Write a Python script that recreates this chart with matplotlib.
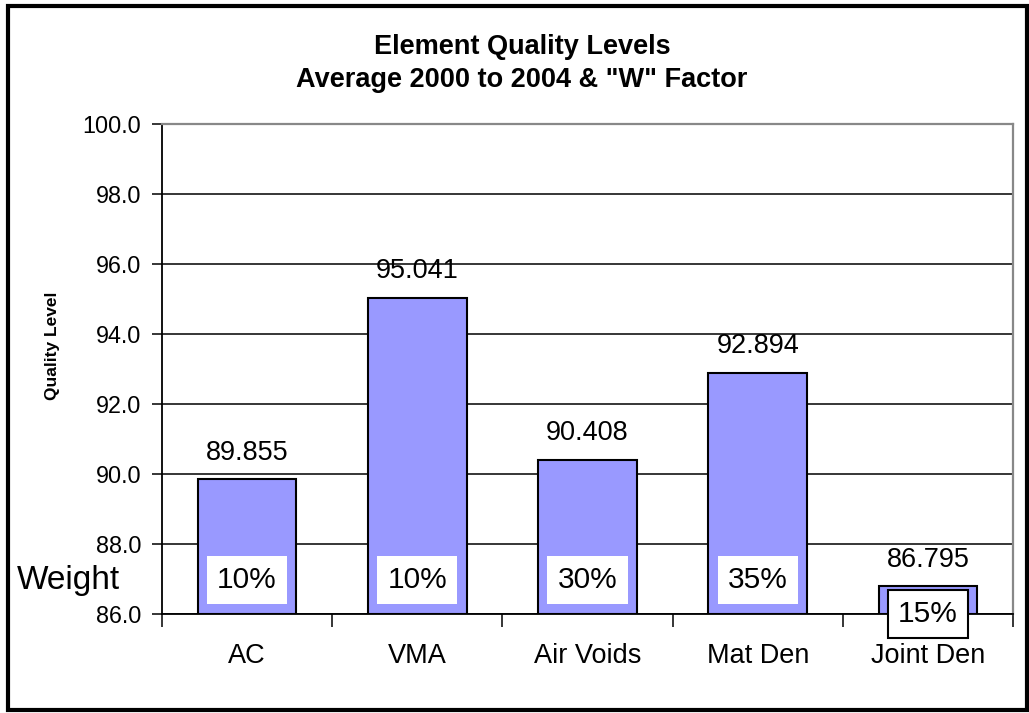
import numpy as np
import matplotlib
matplotlib.use("Agg")
import matplotlib.pyplot as plt
from matplotlib.patches import Rectangle
from matplotlib.ticker import FixedLocator, NullFormatter

plt.rcParams['font.family'] = ['Liberation Sans', 'DejaVu Sans']

# data
categories = ["AC", "VMA", "Air Voids", "Mat Den", "Joint Den"]
quality = [89.855, 95.041, 90.408, 92.894, 86.795]
weights = ["10%", "10%", "30%", "35%", "15%"]
y_ticks = [86.0, 88.0, 90.0, 92.0, 94.0, 96.0, 98.0, 100.0]

ymin, ymax = y_ticks[0], y_ticks[-1]
bar_color = "#9999FF"

fig = plt.figure(figsize=(10.29, 7.13), dpi=100)
ax = fig.add_axes([162 / 1029, 1 - 614 / 713, 851 / 1029, 490 / 713])

x = np.arange(len(categories))
heights = [v - ymin for v in quality]
ax.bar(x, heights, bottom=ymin, width=0.58, color=bar_color,
       edgecolor="black", linewidth=1.5, zorder=3)

# gridlines (top one is the grey plot border)
for t in y_ticks[:-1]:
    ax.axhline(t, color="black", linewidth=1.1, zorder=1)

ax.set_xlim(-0.5, len(categories) - 0.5)
ax.set_ylim(ymin, ymax)
ax.set_yticks(y_ticks)
ax.set_yticklabels([f"{t:.1f}" for t in y_ticks])
ax.set_xticks(x)
ax.set_xticklabels(categories)
ax.xaxis.set_minor_locator(FixedLocator(np.arange(len(categories) + 1) - 0.5))
ax.xaxis.set_minor_formatter(NullFormatter())

ax.tick_params(axis="y", direction="out", length=7, width=1.1, pad=8,
               labelsize=16.8, color="black")
ax.tick_params(axis="x", which="major", length=0, pad=21, labelsize=19.5)
ax.tick_params(axis="x", which="minor", direction="out", length=9,
               width=1.1, color="black")

for side in ["left", "bottom"]:
    ax.spines[side].set_color("black")
    ax.spines[side].set_linewidth(1.3)
for side in ["top", "right"]:
    ax.spines[side].set_color("#888888")
    ax.spines[side].set_linewidth(1.6)

# value labels above bars
for xi, v in zip(x, quality):
    ax.annotate(f"{v:.3f}", (xi, v), xytext=(0, 14), textcoords="offset points",
                ha="center", va="baseline", fontsize=19.5, zorder=5)

# weight boxes
for xi, v, w in zip(x, quality, weights):
    if v - ymin > 1.5:
        ax.text(xi, 86.98, w, ha="center", va="center", fontsize=21.5, zorder=6,
                bbox=dict(boxstyle="square,pad=0.34", facecolor="white",
                          edgecolor="none"))
    else:
        ax.text(xi, ymin, w, ha="center", va="center", fontsize=21.5, zorder=6,
                clip_on=False,
                bbox=dict(boxstyle="square,pad=0.34", facecolor="white",
                          edgecolor="black", linewidth=1.5))

ax.text(-0.17, 86.95, "Weight", transform=ax.get_yaxis_transform(),
        ha="left", va="center", fontsize=24)

fig.text(53 / 1029, 1 - 346 / 713, "Quality Level", rotation=90,
         ha="center", va="center", fontsize=12.5, fontweight="bold")

fig.text(522 / 1029, 1 - 47 / 713, "Element Quality Levels",
         ha="center", va="center", fontsize=19.5, fontweight="bold")
fig.text(522 / 1029, 1 - 80 / 713, 'Average 2000 to 2004 & "W" Factor',
         ha="center", va="center", fontsize=19.5, fontweight="bold")

# outer chart border
fig.patches.append(Rectangle((8 / 1029, 3 / 713), 1019 / 1029, 704 / 713,
                             transform=fig.transFigure, fill=False,
                             edgecolor="black", linewidth=3))

fig.savefig("out.png", dpi=100)
